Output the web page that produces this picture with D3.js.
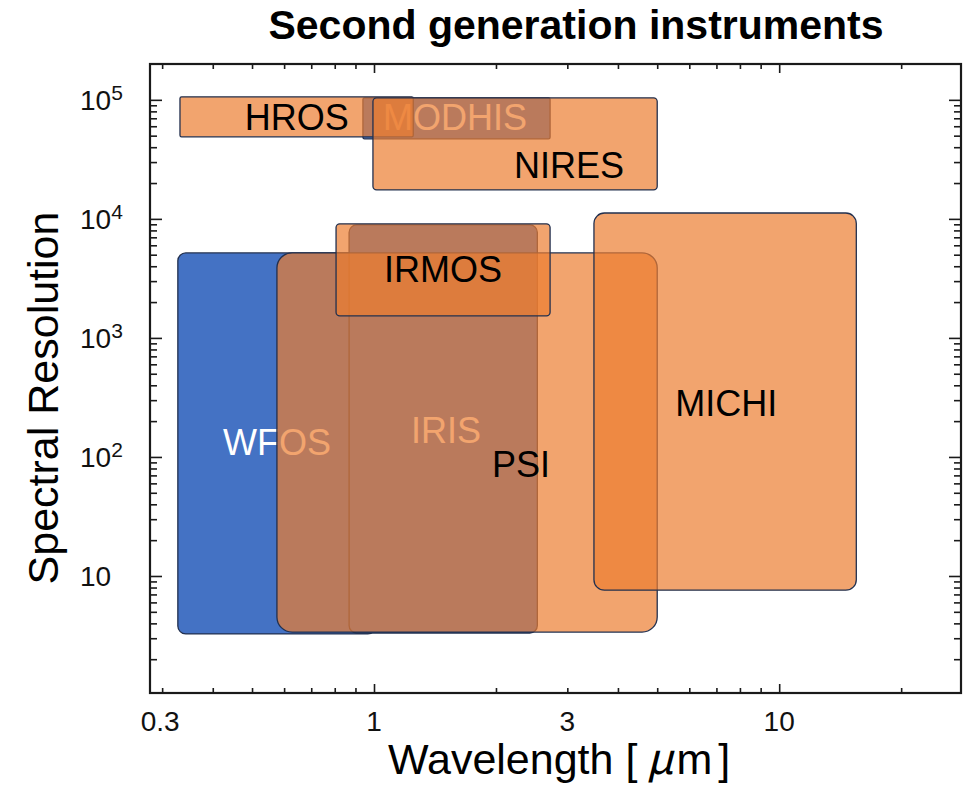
<!DOCTYPE html>
<html><head><meta charset="utf-8">
<script src="https://cdn.jsdelivr.net/npm/d3@7"></script>
<style>body{margin:0;background:#fff}svg{display:block}</style>
</head><body>
<svg id="chart" width="964" height="793"></svg>
<script>
// ---- data ----
const instruments = ["WFOS", "IRIS", "MODHIS", "PSI", "IRMOS", "MICHI", "HROS", "NIRES"];
const groups      = ["blue", "blue", "blue", "orange", "orange", "orange", "orange", "orange"];
const waveLow  = [0.328, 0.868, 0.939, 0.576, 0.806, 3.49, 0.332, 0.994];
const waveHigh = [1.01, 2.53, 2.72, 5.0, 2.72, 15.5, 1.25, 5.0];
const resLow   = [3.26, 3.32, 47000, 3.38, 1530, 7.6, 48900, 17500];
const resHigh  = [5180, 8900, 104000, 5180, 9080, 11200, 106000, 104000];
const labelWave = [0.424, 1.234, 1.052, 1.956, 1.058, 5.54, 0.480, 2.217];
const labelRes  = [104, 131, 56000, 67.9, 2960, 221, 56000, 22100];
const xTickLabels = [0.3, 1, 3, 10];
const xMajorTicks = [1, 10];
const xMinorTicks = [0.3, 0.4, 0.5, 0.6, 0.7, 0.8, 0.9, 2, 3, 4, 5, 6, 7, 8, 9, 20];
const yMajorTicks = [10, 100, 1000, 10000, 100000];
const yMinorTicks = [2,3,4,5,6,7,8,9,20,30,40,50,60,70,80,90,200,300,400,500,600,700,800,900,
  2000,3000,4000,5000,6000,7000,8000,9000,20000,30000,40000,50000,60000,70000,80000,90000];
const waveDomain = [0.28, 28.1];
const resDomain = [1.04, 200000];
const titleText = "Second generation instruments";
const xTitle = "Wavelength [";
const xTitleUnit = "μ";
const xTitleM = "m";
const xTitleEnd = "]";
const yTitle = "Spectral Resolution";

// ---- layout ----
const L = 150, R = 961, T = 64, B = 693;
const svg = d3.select("#chart");
const x = d3.scaleLog().domain(waveDomain).range([L, R]);
const y = d3.scaleLog().domain(resDomain).range([B, T]);
const FONT = "'Liberation Sans', Arial, Helvetica, sans-serif";
const colors = {blue: "#4472C4", orange: "#ED7D31"};
const opac = {blue: 1, orange: 0.7};
const labelCol = {blue: "#ffffff", orange: "#000000"};

const idx = d3.range(instruments.length);
function drawRects(g, list) {
  g.selectAll("rect").data(list).join("rect")
    .attr("x", i => x(waveLow[i]))
    .attr("y", i => y(resHigh[i]))
    .attr("width", i => x(waveHigh[i]) - x(waveLow[i]))
    .attr("height", i => y(resLow[i]) - y(resHigh[i]))
    .attr("rx", i => 0.04 * Math.min(x(waveHigh[i]) - x(waveLow[i]), y(resLow[i]) - y(resHigh[i])))
    .attr("fill", i => colors[groups[i]])
    .attr("fill-opacity", i => opac[groups[i]])
    .attr("stroke", "#22304f")
    .attr("stroke-width", 1.3);
}
function drawLabels(g, list) {
  g.selectAll("text").data(list).join("text")
    .attr("x", i => x(labelWave[i]))
    .attr("y", i => y(labelRes[i]))
    .attr("font-family", FONT)
    .attr("font-size", 36)
    .attr("fill", i => labelCol[groups[i]])
    .text(i => instruments[i]);
}
const blueIdx = idx.filter(i => groups[i] === "blue");
const orangeIdx = idx.filter(i => groups[i] === "orange");
drawRects(svg.append("g"), blueIdx);
drawLabels(svg.append("g"), blueIdx);
drawRects(svg.append("g"), orangeIdx);
drawLabels(svg.append("g"), orangeIdx);

// ---- axes (inward ticks on all four sides) ----
const tickStyle = g => { g.select(".domain").remove(); g.selectAll("line").attr("stroke", "#1a1a1a").attr("stroke-width", 1.6); g.selectAll("text").remove(); };
svg.append("g").attr("transform", `translate(0,${B})`).call(d3.axisTop(x).tickValues(xMajorTicks).tickSize(9)).call(tickStyle);
svg.append("g").attr("transform", `translate(0,${B})`).call(d3.axisTop(x).tickValues(xMinorTicks).tickSize(5)).call(tickStyle);
svg.append("g").attr("transform", `translate(0,${T})`).call(d3.axisBottom(x).tickValues(xMajorTicks).tickSize(9)).call(tickStyle);
svg.append("g").attr("transform", `translate(0,${T})`).call(d3.axisBottom(x).tickValues(xMinorTicks).tickSize(5)).call(tickStyle);
svg.append("g").attr("transform", `translate(${L},0)`).call(d3.axisRight(y).tickValues(yMajorTicks).tickSize(12)).call(tickStyle);
svg.append("g").attr("transform", `translate(${L},0)`).call(d3.axisRight(y).tickValues(yMinorTicks).tickSize(7)).call(tickStyle);
svg.append("g").attr("transform", `translate(${R},0)`).call(d3.axisLeft(y).tickValues(yMajorTicks).tickSize(12)).call(tickStyle);
svg.append("g").attr("transform", `translate(${R},0)`).call(d3.axisLeft(y).tickValues(yMinorTicks).tickSize(7)).call(tickStyle);

// frame
svg.append("rect").attr("x", L).attr("y", T).attr("width", R - L).attr("height", B - T)
  .attr("fill", "none").attr("stroke", "#1a1a1a").attr("stroke-width", 2.2);

// x tick labels
svg.append("g").selectAll("text").data(xTickLabels).join("text")
  .attr("x", d => x(d) - (d === 0.3 ? 2 : 0)).attr("y", 731)
  .attr("text-anchor", "middle").attr("font-family", FONT).attr("font-size", 28).attr("fill", "#111")
  .text(d => d3.format("")(d));

// y tick labels (10, 10^2 ...)
const yl = svg.append("g").selectAll("text").data(yMajorTicks).join("text")
  .attr("x", 80).attr("y", d => y(d) + 10)
  .attr("font-family", FONT).attr("font-size", 28).attr("fill", "#111");
yl.append("tspan").text("10");
yl.filter(d => d > 10).append("tspan").attr("dy", -10).attr("font-size", 21)
  .text(d => String(Math.round(Math.log10(d))));

// titles
svg.append("text").attr("x", 576).attr("y", 39).attr("text-anchor", "middle")
  .attr("font-family", FONT).attr("font-weight", "bold").attr("font-size", 41).attr("fill", "#000")
  .text(titleText);
const xt = svg.append("text").attr("x", 388).attr("y", 774)
  .attr("font-family", FONT).attr("font-size", 43).attr("fill", "#000");
xt.append("tspan").text(xTitle);
xt.append("tspan").attr("font-family", "'Noto Sans CJK JP', sans-serif").attr("font-style", "italic").attr("dx", 9).text(xTitleUnit);
xt.append("tspan").attr("dx", 3).text(xTitleM);
xt.append("tspan").attr("dx", 6).text(xTitleEnd);
svg.append("text").attr("transform", "translate(58,398) rotate(-90)").attr("text-anchor", "middle")
  .attr("font-family", FONT).attr("font-size", 43).attr("fill", "#000")
  .text(yTitle);
</script>
</body></html>
